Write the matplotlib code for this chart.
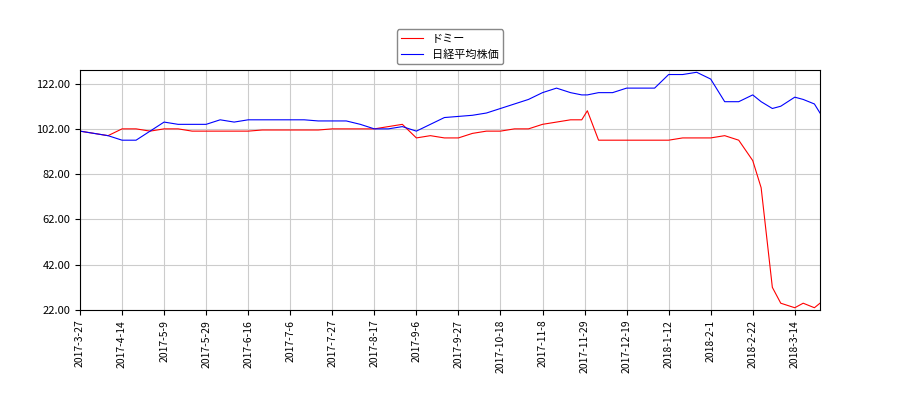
import matplotlib
matplotlib.use("Agg")
import matplotlib.pyplot as plt

plt.rcParams['font.family'] = ['Noto Sans CJK JP', 'DejaVu Sans']

idx = [0,5,10,15,20,25,30,35,40,45,50,55,60,65,70,75,80,85,90,95,100,105,110,115,120,125,130,135,140,145,150,155,160,165,170,175,179,181,185,190,195,200,205,210,215,220,225,230,235,240,243,247,250,255,258,262,264]
domy = [101,100,99,102,102,101,102,102,101,101,101,101,101,101.5,101.5,101.5,101.5,101.5,102,102,102,102,103,104,98,99,98,98,100,101,101,102,102,104,105,106,106,110,97,97,97,97,97,97,98,98,98,99,97,88,76,32,25,23,25,23,25]
nikkei = [101,100,99,97,97,101,105,104,104,104,106,105,106,106,106,106,106,105.5,105.5,105.5,104,102,102,103,101,104,107,107.5,108,109,111,113,115,118,120,118,117,117,118,118,120,120,120,126,126,127,124,114,114,117,114,111,112,116,115,113,109]
tick_labels = ["2017-3-27","2017-4-14","2017-5-9","2017-5-29","2017-6-16","2017-7-6","2017-7-27","2017-8-17","2017-9-6","2017-9-27","2017-10-18","2017-11-8","2017-11-29","2017-12-19","2018-1-12","2018-2-1","2018-2-22","2018-3-14"]

fig = plt.figure(figsize=(9, 4), dpi=100)
ax = fig.add_axes([80/900, 90/400, 740/900, 240/400])
ax.plot(idx, domy, color='red', lw=0.8, label='ドミー')
ax.plot(idx, nikkei, color='blue', lw=0.8, label='日経平均株価')
ax.set_xlim(0, 264)
ax.set_ylim(22, 128)
ax.set_yticks([22,42,62,82,102,122])
ax.set_yticklabels([f"{v:.2f}" for v in [22,42,62,82,102,122]], fontsize=8)
ax.set_xticks([15*i for i in range(len(tick_labels))])
ax.set_xticklabels(tick_labels, rotation=90, fontsize=7.5)
ax.grid(True, color='#cccccc', lw=0.8)
ax.legend(loc='lower center', bbox_to_anchor=(0.5, 1.0), fontsize=8, framealpha=1, edgecolor='#888888')
fig.savefig("out.png")
